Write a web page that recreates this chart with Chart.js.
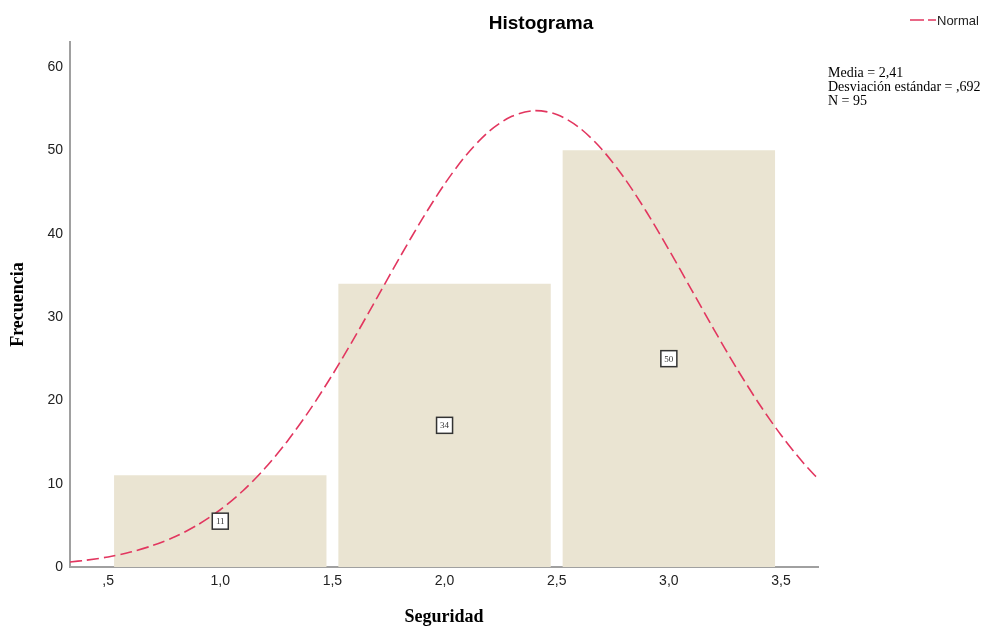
<!DOCTYPE html>
<html>
<head>
<meta charset="utf-8">
<script src="https://cdn.jsdelivr.net/npm/chart.js@4"></script>
<style>
  html, body { margin: 0; padding: 0; background: #fff; }
  #wrap { width: 991px; height: 628px; position: relative; }
</style>
</head>
<body>
<div id="wrap"><canvas id="hist"></canvas></div>
<script>
// histogram bins (midpoints) and counts
const binCenters = [1, 2, 3];
const binCounts = [11, 34, 50];

// x ticks shown under the axis
const xTickValues = [0.5, 1.0, 1.5, 2.0, 2.5, 3.0, 3.5];
const xTickLabels = [',5', '1,0', '1,5', '2,0', '2,5', '3,0', '3,5'];

// normal curve
const curveX = [0.33, 0.4, 0.5, 0.6, 0.7, 0.8, 0.9, 1.0, 1.1, 1.2, 1.3, 1.4, 1.5, 1.6, 1.7, 1.8, 1.9, 2.0,
                2.1, 2.2, 2.3, 2.4, 2.5, 2.6, 2.7, 2.8, 2.9, 3.0, 3.1, 3.2, 3.3, 3.4, 3.5, 3.6, 3.67];
const curveY = [0.6, 0.81, 1.21, 1.79, 2.59, 3.65, 5.07, 6.87, 9.12, 11.87, 15.13, 18.88, 23.07, 27.61, 32.36, 37.14, 41.74, 45.95,
                49.54, 52.31, 54.08, 54.76, 54.31, 52.74, 50.16, 46.73, 42.63, 38.08, 33.32, 28.55, 23.95, 19.68, 15.84, 12.48, 10.44];

const statsLines = ['Media = 2,41', 'Desviación estándar = ,692', 'N = 95'];

const BAR_COLOR = 'rgb(234, 228, 210)';
const CURVE_COLOR = '#E2365F';
const AXIS_COLOR = '#a0a0a0';

const extrasPlugin = {
    id: 'extras',
    afterDatasetsDraw(chart) {
        const ctx = chart.ctx;
        const xs = chart.scales.x;
        const ys = chart.scales.y;

        // count boxes in the middle of each bar
        ctx.save();
        binCenters.forEach((c, i) => {
            const px = xs.getPixelForValue(c);
            const py = ys.getPixelForValue(binCounts[i] / 2);
            ctx.fillStyle = '#fff';
            ctx.fillRect(px - 8, py - 8, 16, 16);
            ctx.strokeStyle = '#333';
            ctx.lineWidth = 1.5;
            ctx.strokeRect(px - 8, py - 8, 16, 16);
            ctx.fillStyle = '#333';
            ctx.font = '9px "Liberation Serif"';
            ctx.textAlign = 'center';
            ctx.textBaseline = 'middle';
            ctx.fillText(String(binCounts[i]), px, py + 0.5);
        });
        ctx.restore();
    },
    afterDraw(chart) {
        const ctx = chart.ctx;
        const area = chart.chartArea;
        ctx.save();

        // title
        ctx.fillStyle = '#000';
        ctx.font = 'bold 19px "Liberation Sans"';
        ctx.textAlign = 'center';
        ctx.textBaseline = 'middle';
        ctx.fillText('Histograma', 541, 24);

        // axis titles
        ctx.font = 'bold 18px "Liberation Serif"';
        ctx.fillText('Seguridad', (area.left + area.right) / 2, 617);
        ctx.save();
        ctx.translate(18, (area.top + area.bottom) / 2);
        ctx.rotate(-Math.PI / 2);
        ctx.fillText('Frecuencia', 0, 0);
        ctx.restore();

        // legend
        ctx.strokeStyle = CURVE_COLOR;
        ctx.lineWidth = 1.5;
        ctx.setLineDash([14, 4]);
        ctx.beginPath();
        ctx.moveTo(910, 20);
        ctx.lineTo(936, 20);
        ctx.stroke();
        ctx.setLineDash([]);
        ctx.fillStyle = '#222';
        ctx.font = '13px "Liberation Sans"';
        ctx.textAlign = 'left';
        ctx.fillText('Normal', 937, 21);

        // stats
        ctx.fillStyle = '#000';
        ctx.font = '14px "Liberation Serif"';
        statsLines.forEach((line, i) => {
            ctx.fillText(line, 828, 73 + i * 14);
        });
        ctx.restore();
    }
};

new Chart(document.getElementById('hist'), {
    data: {
        datasets: [
            {
                type: 'line',
                data: curveX.map((x, i) => ({ x: x, y: curveY[i] })),
                borderColor: CURVE_COLOR,
                borderWidth: 1.6,
                borderDash: [12, 5],
                pointRadius: 0,
                tension: 0.3,
                fill: false,
                order: 0
            },
            {
                type: 'bar',
                data: binCenters.map((c, i) => ({ x: c, y: binCounts[i] })),
                backgroundColor: BAR_COLOR,
                borderWidth: 0,
                categoryPercentage: 1,
                barPercentage: 1.894,
                grouped: false,
                order: 1
            }
        ]
    },
    options: {
        responsive: true,
        maintainAspectRatio: false,
        animation: false,
        layout: { padding: { left: 0, top: 42, right: 173, bottom: 0 } },
        plugins: {
            legend: { display: false },
            tooltip: { enabled: false }
        },
        scales: {
            x: {
                type: 'linear',
                min: 0.33,
                max: 3.665,
                offset: false,
                grid: { display: false, drawTicks: false, offset: false },
                border: { color: AXIS_COLOR, width: 2 },
                afterBuildTicks: scale => {
                    scale.ticks = xTickValues.map(v => ({ value: v }));
                },
                afterFit: scale => { scale.height = 61; },
                ticks: {
                    padding: 6,
                    color: '#222',
                    font: { family: 'Liberation Sans', size: 14 },
                    callback: (value) => {
                        const idx = xTickValues.indexOf(value);
                        return idx >= 0 ? xTickLabels[idx] : '';
                    }
                }
            },
            y: {
                min: 0,
                max: 63,
                grid: { display: false, drawTicks: false },
                border: { color: AXIS_COLOR, width: 2 },
                afterBuildTicks: scale => {
                    scale.ticks = scale.ticks.filter(t => t.value % 10 === 0);
                },
                afterFit: scale => { scale.width = 70; },
                ticks: {
                    stepSize: 10,
                    padding: 7,
                    color: '#222',
                    font: { family: 'Liberation Sans', size: 14 }
                }
            }
        }
    },
    plugins: [extrasPlugin]
});
</script>
</body>
</html>
